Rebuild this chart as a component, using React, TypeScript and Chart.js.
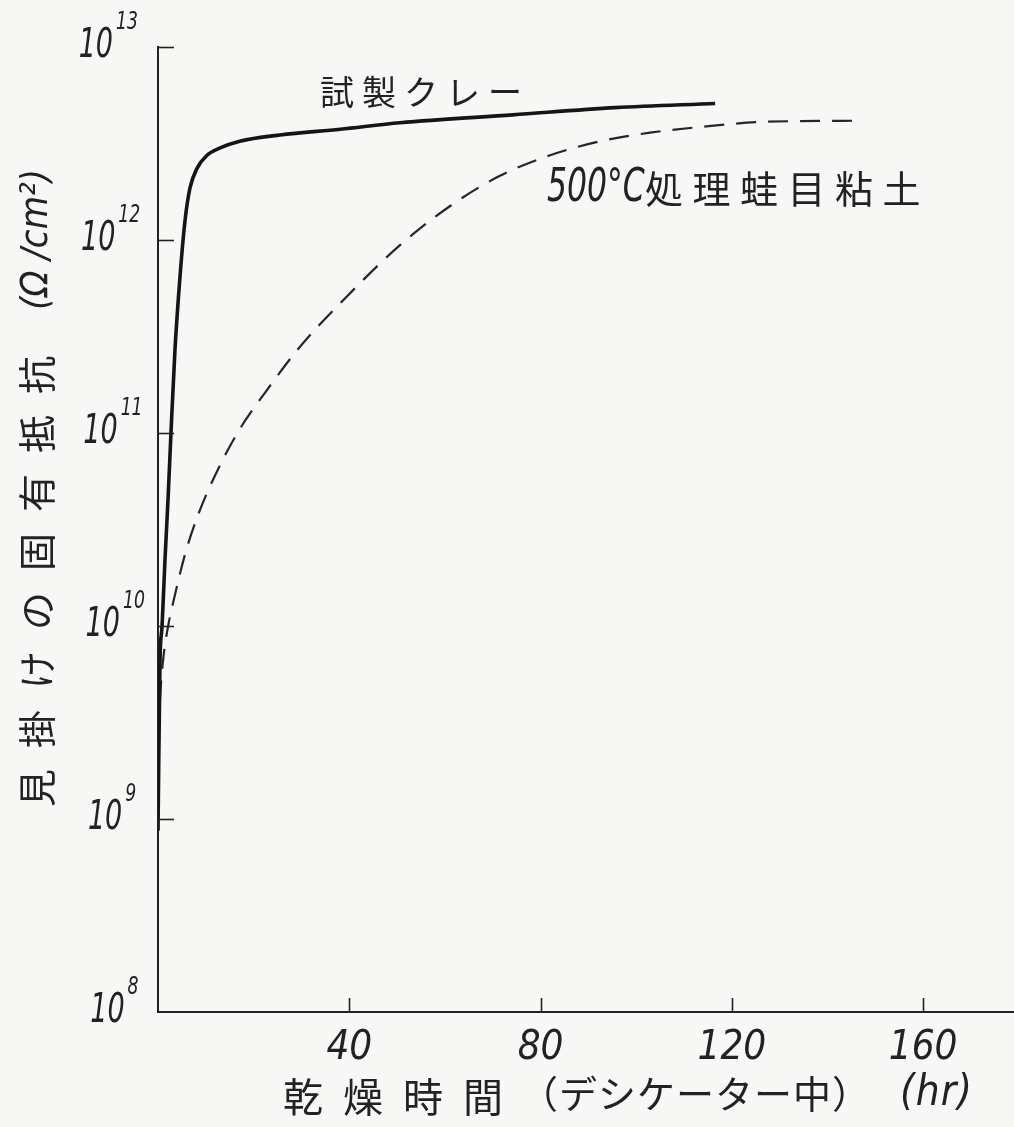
import { useEffect, useRef } from 'react';
import { Chart, registerables } from 'chart.js';

Chart.register(...registerables);

// Drying time in the desiccator (hr) and apparent resistivity (Ω/cm²)
const trialClayHours = [0, 0.42, 0.84, 1.46, 2.09, 2.72, 3.55, 4.6, 5.65, 6.69, 8.16, 10.25, 13.0, 17.1, 25.5, 38.1, 50.6, 74.2, 95.6, 116.5];
const trialClayResist = [8.7e8, 6.6e9, 9.9e9, 2.2e10, 4.5e10, 1.01e11, 2.7e11, 6.45e11, 1.26e12, 1.86e12, 2.35e12, 2.75e12, 3.0e12, 3.25e12, 3.5e12, 3.75e12, 4.05e12, 4.45e12, 4.85e12, 5.1e12];

const gairomeHours = [0.15, 0.42, 1.05, 2.09, 3.55, 5.65, 8.36, 11.9, 16.7, 22.4, 29.7, 38.1, 50.6, 61.1, 71.5, 82.0, 92.5, 102.9, 113.3, 127.4, 146.8];
const gairomeResist = [2.8e9, 4.2e9, 6.6e9, 9.9e9, 1.45e10, 2.35e10, 3.75e10, 6.0e10, 1.01e11, 1.62e11, 2.8e11, 4.7e11, 9.4e11, 1.5e12, 2.15e12, 2.75e12, 3.25e12, 3.6e12, 3.85e12, 4.1e12, 4.15e12];

// Axis ticks
const hourTicks = [40, 80, 120, 160];
const decadeValues = [1e8, 1e9, 1e10, 1e11, 1e12, 1e13];
const decadeExponents = ['8', '9', '10', '11', '12', '13'];

// Texts
const trialClayLabel = '試製クレー';
const gairomeTemp = '500°C';
const gairomeLabel = '処理蛙目粘土';
const yTitleMain = '見掛けの固有抵抗';
const yTitleUnit = '(Ω /cm²)';
const xTitleMain = '乾燥時間';
const xTitleNote = '（デシケーター中）';
const xTitleUnit = '(hr)';

const INK = '#222222';
const LATIN = "'Liberation Sans Narrow', 'DejaVu Sans Condensed', 'Liberation Sans', sans-serif";
const CJK = "'Noto Sans CJK JP', 'Noto Sans CJK SC', sans-serif";

function drawText(
  ctx: CanvasRenderingContext2D,
  text: string,
  x: number,
  y: number,
  font: string,
  opts: { align?: CanvasTextAlign; spacing?: number; sx?: number } = {}
) {
  ctx.save();
  ctx.translate(x, y);
  if (opts.sx) ctx.scale(opts.sx, 1);
  ctx.font = font;
  ctx.fillStyle = INK;
  ctx.textAlign = opts.align || 'left';
  ctx.textBaseline = 'middle';
  (ctx as any).letterSpacing = `${opts.spacing || 0}px`;
  ctx.fillText(text, 0, 0);
  ctx.restore();
}

const paperPlugin = {
  id: 'paper',
  beforeDraw(chart: any) {
    const { ctx, width, height } = chart;
    ctx.save();
    ctx.fillStyle = '#f7f7f5';
    ctx.fillRect(0, 0, width, height);
    ctx.restore();
  },
};

const letteringPlugin = {
  id: 'lettering',
  afterDraw(chart: any) {
    const { ctx, chartArea, scales } = chart;
    const xs = scales.x;
    const ys = scales.y;
    ctx.save();
    ctx.strokeStyle = INK;
    ctx.lineWidth = 1.6;

    // inward tick marks on the resistivity axis
    decadeValues.slice(1).forEach((v) => {
      const py = Math.round(ys.getPixelForValue(v)) + 0.5;
      ctx.beginPath();
      ctx.moveTo(chartArea.left, py);
      ctx.lineTo(chartArea.left + 16, py);
      ctx.stroke();
    });
    // inward tick marks on the time axis
    hourTicks.forEach((h) => {
      const px = Math.round(xs.getPixelForValue(h)) + 0.5;
      ctx.beginPath();
      ctx.moveTo(px, chartArea.bottom);
      ctx.lineTo(px, chartArea.bottom - 14);
      ctx.stroke();
    });
    ctx.restore();

    // decade labels 10^n
    decadeValues.forEach((v, i) => {
      const py = ys.getPixelForValue(v);
      const right = 113 + (py - chartArea.top) * 0.012;
      drawText(ctx, '10', right, py, `italic 40px ${LATIN}`, { align: 'right', sx: 0.75 });
      drawText(ctx, decadeExponents[i], right + 3, py - 24, `italic 24px ${LATIN}`, { sx: 0.8 });
    });

    // vertical axis title
    ctx.save();
    ctx.translate(37, 807);
    ctx.rotate(-Math.PI / 2);
    drawText(ctx, yTitleMain, 0, 0, `38px ${CJK}`, { spacing: 21 });
    drawText(ctx, yTitleUnit, 497, 0, `italic 38px ${LATIN}`, { spacing: 0 });
    ctx.restore();

    // horizontal axis title
    drawText(ctx, xTitleMain, 283, 1097, `40px ${CJK}`, { spacing: 20 });
    drawText(ctx, xTitleNote, 520, 1094, `38px ${CJK}`, { spacing: 1 });
    drawText(ctx, xTitleUnit, 900, 1094, `italic 42px ${LATIN}`, { spacing: 1 });

    // curve labels
    drawText(ctx, trialClayLabel, 320, 92, `34px ${CJK}`, { spacing: 8 });
    drawText(ctx, gairomeTemp, 547, 189, `italic 46px ${LATIN}`, { sx: 0.76 });
    drawText(ctx, gairomeLabel, 645, 189, `38px ${CJK}`, { spacing: 9.5 });
  },
};

export default function App() {
  const canvasRef = useRef<HTMLCanvasElement | null>(null);

  useEffect(() => {
    const canvas = canvasRef.current;
    if (!canvas) return;
    const chart = new Chart(canvas, {
      type: 'line',
      data: {
        datasets: [
          {
            label: trialClayLabel,
            data: trialClayHours.map((h, i) => ({ x: h, y: trialClayResist[i] })),
            borderColor: '#151515',
            borderWidth: 3.6,
            pointRadius: 0,
            cubicInterpolationMode: 'monotone',
            fill: false,
          },
          {
            label: gairomeTemp + gairomeLabel,
            data: gairomeHours.map((h, i) => ({ x: h, y: gairomeResist[i] })),
            borderColor: '#262626',
            borderWidth: 2.2,
            borderDash: [20, 12],
            pointRadius: 0,
            cubicInterpolationMode: 'monotone',
            fill: false,
          },
        ],
      },
      options: {
        animation: false,
        responsive: false,
        maintainAspectRatio: false,
        devicePixelRatio: 1,
        layout: { padding: { top: 47, left: 0, right: 0, bottom: 0 } },
        plugins: { legend: { display: false }, tooltip: { enabled: false } },
        scales: {
          x: {
            type: 'linear',
            position: 'bottom',
            min: 0,
            max: 179,
            afterBuildTicks: (scale: any) => {
              scale.ticks = hourTicks.map((v) => ({ value: v }));
            },
            afterFit: (scale: any) => {
              scale.height = 115;
            },
            grid: { display: false },
            border: { display: true, color: INK, width: 2 },
            ticks: {
              color: INK,
              padding: 5,
              maxRotation: 0,
              autoSkip: false,
              font: { family: LATIN, size: 40, style: 'italic' },
            },
          },
          y: {
            type: 'logarithmic',
            position: 'left',
            min: 1e8,
            max: 1e13,
            afterFit: (scale: any) => {
              scale.width = 158;
            },
            grid: { display: false },
            border: { display: true, color: INK, width: 2 },
            ticks: { display: false },
          },
        },
      },
      plugins: [paperPlugin, letteringPlugin],
    } as any);
    return () => chart.destroy();
  }, []);

  return (
    <div style={{ position: 'fixed', left: 0, top: 0, width: 1014, height: 1127 }}>
      <canvas ref={canvasRef} width={1014} height={1127} style={{ display: 'block' }} />
    </div>
  );
}
